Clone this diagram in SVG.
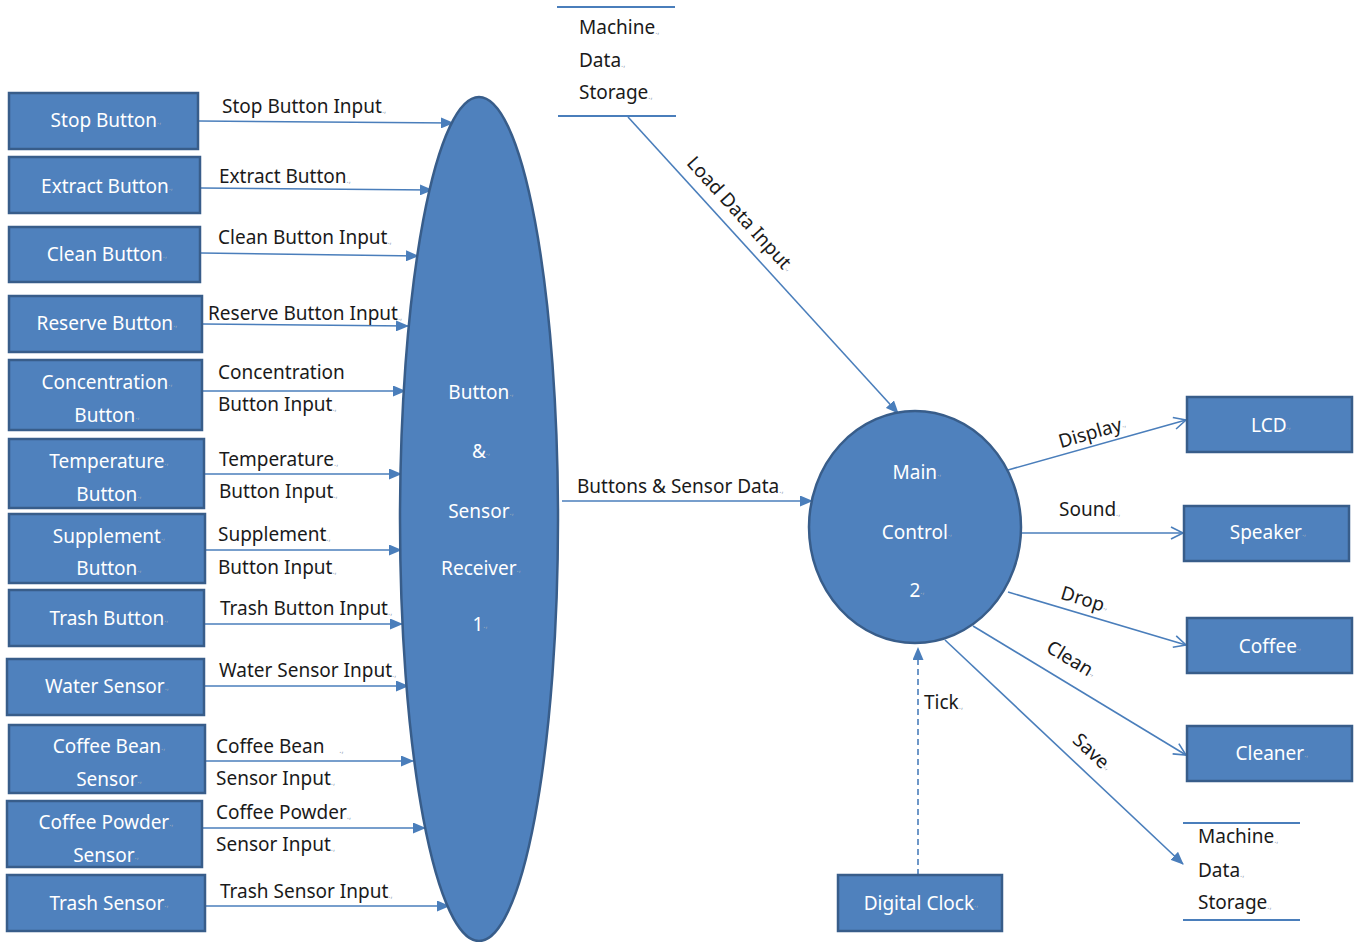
<svg xmlns="http://www.w3.org/2000/svg" width="1355" height="942" viewBox="0 0 1355 942">
<style>
.box{fill:#4F81BD;stroke:#385D8A;stroke-width:2.5}
.bt{font-family:"Noto Sans","Liberation Sans",sans-serif;font-size:19px;fill:#ffffff;text-anchor:middle;dominant-baseline:central}
.lb{font-family:"Noto Sans","Liberation Sans",sans-serif;font-size:19px;fill:#1a1a1a}
.lc{font-family:"Noto Sans","Liberation Sans",sans-serif;font-size:19px;fill:#1a1a1a;text-anchor:middle;dominant-baseline:central}
.pm{font-size:8px;fill:#9aa8bb}
.ln{stroke:#4A7EBB;stroke-width:1.6;fill:none}
.fa{marker-end:url(#fill)}
.oa{marker-end:url(#open)}
.st{stroke:#4A7EBB;stroke-width:1.8}
</style>
<defs>
<marker id="fill" markerUnits="userSpaceOnUse" markerWidth="13" markerHeight="11" refX="12" refY="5.5" orient="auto">
<path d="M0,0 L13,5.5 L0,11 z" fill="#4A7EBB"/>
</marker>
<marker id="open" markerUnits="userSpaceOnUse" markerWidth="15" markerHeight="14" refX="13" refY="7" orient="auto">
<path d="M1,1 L13,7 L1,13" fill="none" stroke="#4A7EBB" stroke-width="1.6"/>
</marker>
</defs>

<g id="connectors">
<line class="ln fa" x1="199" y1="121" x2="453" y2="123"/>
<line class="ln fa" x1="201" y1="188" x2="432" y2="190"/>
<line class="ln fa" x1="201" y1="253" x2="418" y2="256"/>
<line class="ln fa" x1="203" y1="324" x2="408" y2="326"/>
<line class="ln fa" x1="203" y1="391" x2="405" y2="391"/>
<line class="ln fa" x1="205" y1="474" x2="401" y2="474"/>
<line class="ln fa" x1="206" y1="550" x2="401" y2="550"/>
<line class="ln fa" x1="205" y1="624" x2="402" y2="624"/>
<line class="ln fa" x1="205" y1="686" x2="408" y2="686"/>
<line class="ln fa" x1="206" y1="761" x2="413" y2="761"/>
<line class="ln fa" x1="203" y1="828" x2="425" y2="828"/>
<line class="ln fa" x1="206" y1="906" x2="449" y2="906"/>
<line class="ln fa" x1="562" y1="501" x2="812" y2="501"/>
<line class="ln fa" x1="628" y1="117" x2="898" y2="413"/>
<line class="ln oa" x1="1008" y1="470" x2="1186" y2="420"/>
<line class="ln oa" x1="1021" y1="533" x2="1183" y2="533"/>
<line class="ln oa" x1="1008" y1="592" x2="1186" y2="645"/>
<line class="ln oa" x1="973" y1="626" x2="1186" y2="755"/>
<line class="ln fa" x1="945" y1="640" x2="1183" y2="864"/>
<line class="ln fa" x1="918" y1="875" x2="918" y2="648" stroke-dasharray="6,4"/>

<text class="lb" x="222" y="113">Stop Button Input<tspan class="pm">.,</tspan></text>
<text class="lb" x="219" y="183">Extract Button<tspan class="pm">.,</tspan></text>
<text class="lb" x="218" y="244">Clean Button Input<tspan class="pm">.,</tspan></text>
<text class="lb" x="208" y="320">Reserve Button Input<tspan class="pm">.,</tspan></text>
<text class="lb" x="218" y="379">Concentration</text>
<text class="lb" x="218" y="411">Button Input<tspan class="pm">.,</tspan></text>
<text class="lb" x="219" y="466">Temperature<tspan class="pm">.,</tspan></text>
<text class="lb" x="219" y="498">Button Input<tspan class="pm">.,</tspan></text>
<text class="lb" x="218" y="541">Supplement<tspan class="pm">.,</tspan></text>
<text class="lb" x="218" y="574">Button Input<tspan class="pm">.,</tspan></text>
<text class="lb" x="220" y="615">Trash Button Input<tspan class="pm">.,</tspan></text>
<text class="lb" x="219" y="677">Water Sensor Input<tspan class="pm">.,</tspan></text>
<text class="lb" x="216" y="753">Coffee Bean <tspan class="pm" dx="10">.,</tspan></text>
<text class="lb" x="216" y="785">Sensor Input<tspan class="pm">.,</tspan></text>
<text class="lb" x="216" y="819">Coffee Powder<tspan class="pm">.,</tspan></text>
<text class="lb" x="216" y="851">Sensor Input<tspan class="pm">.,</tspan></text>
<text class="lb" x="220" y="898">Trash Sensor Input<tspan class="pm">.,</tspan></text>
<text class="lb" x="577" y="493">Buttons &amp; Sensor Data<tspan class="pm">.,</tspan></text>
<text class="lc" transform="translate(741,214) rotate(47.7)">Load Data Input<tspan class="pm">.,</tspan></text>
<text class="lc" transform="translate(1092,432) rotate(-16)">Display<tspan class="pm">.,</tspan></text>
<text class="lb" x="1059" y="516">Sound<tspan class="pm">.,</tspan></text>
<text class="lc" transform="translate(1085,599) rotate(17)">Drop<tspan class="pm">.,</tspan></text>
<text class="lc" transform="translate(1072,659) rotate(31)">Clean<tspan class="pm">.,</tspan></text>
<text class="lc" transform="translate(1093,752) rotate(43)">Save<tspan class="pm">.,</tspan></text>
<text class="lb" x="924" y="709">Tick<tspan class="pm">.,</tspan></text>
</g>

<g id="stop-button"><rect class="box" x="9" y="93" width="189" height="56"/><text class="bt" x="106" y="120">Stop Button<tspan class="pm">.,</tspan></text></g>
<g id="extract-button"><rect class="box" x="9" y="157" width="191" height="56"/><text class="bt" x="107" y="186">Extract Button<tspan class="pm">.,</tspan></text></g>
<g id="clean-button"><rect class="box" x="9" y="227" width="191" height="55"/><text class="bt" x="107" y="254">Clean Button<tspan class="pm">.,</tspan></text></g>
<g id="reserve-button"><rect class="box" x="9" y="296" width="193" height="56"/><text class="bt" x="107" y="323">Reserve Button<tspan class="pm">.,</tspan></text></g>
<g id="concentration-button"><rect class="box" x="9" y="360" width="193" height="70"/><text class="bt" x="107" y="382">Concentration<tspan class="pm">.,</tspan></text><text class="bt" x="107" y="415">Button<tspan class="pm">.,</tspan></text></g>
<g id="temperature-button"><rect class="box" x="9" y="439" width="195" height="69"/><text class="bt" x="109" y="461">Temperature<tspan class="pm">.,</tspan></text><text class="bt" x="109" y="494">Button<tspan class="pm">.,</tspan></text></g>
<g id="supplement-button"><rect class="box" x="9" y="514" width="196" height="69"/><text class="bt" x="109" y="536">Supplement<tspan class="pm">.,</tspan></text><text class="bt" x="109" y="568">Button<tspan class="pm">.,</tspan></text></g>
<g id="trash-button"><rect class="box" x="9" y="590" width="195" height="56"/><text class="bt" x="109" y="618">Trash Button<tspan class="pm">.,</tspan></text></g>
<g id="water-sensor"><rect class="box" x="7" y="659" width="197" height="56"/><text class="bt" x="107" y="686">Water Sensor<tspan class="pm">.,</tspan></text></g>
<g id="coffee-bean-sensor"><rect class="box" x="9" y="725" width="196" height="68"/><text class="bt" x="109" y="746">Coffee Bean<tspan class="pm">.,</tspan></text><text class="bt" x="109" y="779">Sensor<tspan class="pm">.,</tspan></text></g>
<g id="coffee-powder-sensor"><rect class="box" x="7" y="801" width="195" height="66"/><text class="bt" x="106" y="822">Coffee Powder<tspan class="pm">.,</tspan></text><text class="bt" x="106" y="855">Sensor<tspan class="pm">.,</tspan></text></g>
<g id="trash-sensor"><rect class="box" x="7" y="875" width="198" height="56"/><text class="bt" x="109" y="903">Trash Sensor<tspan class="pm">.,</tspan></text></g>

<g id="receiver"><ellipse class="box" cx="479" cy="519" rx="79" ry="422"/>
<text class="bt" x="481" y="392">Button<tspan class="pm">.,</tspan></text>
<text class="bt" x="481" y="451">&amp;<tspan class="pm">.,</tspan></text>
<text class="bt" x="481" y="511">Sensor<tspan class="pm">.,</tspan></text>
<text class="bt" x="481" y="568">Receiver<tspan class="pm">.,</tspan></text>
<text class="bt" x="480" y="624">1<tspan class="pm">.,</tspan></text></g>

<g id="storage-top"><line class="st" x1="557" y1="7" x2="675" y2="7"/><line class="st" x1="558" y1="116" x2="676" y2="116"/>
<text class="lb" x="579" y="34">Machine<tspan class="pm">.,</tspan></text>
<text class="lb" x="579" y="67">Data<tspan class="pm">.,</tspan></text>
<text class="lb" x="579" y="99">Storage<tspan class="pm">.,</tspan></text></g>

<g id="main-control"><ellipse class="box" cx="915" cy="527" rx="106" ry="116"/>
<text class="bt" x="917" y="472">Main<tspan class="pm">.,</tspan></text>
<text class="bt" x="917" y="532">Control<tspan class="pm">.,</tspan></text>
<text class="bt" x="917" y="590">2<tspan class="pm">.,</tspan></text></g>

<g id="lcd"><rect class="box" x="1187" y="397" width="165" height="55"/><text class="bt" x="1271" y="425">LCD<tspan class="pm">.,</tspan></text></g>
<g id="speaker"><rect class="box" x="1184" y="506" width="165" height="55"/><text class="bt" x="1268" y="532">Speaker<tspan class="pm">.,</tspan></text></g>
<g id="coffee"><rect class="box" x="1187" y="618" width="165" height="55"/><text class="bt" x="1270" y="646">Coffee<tspan class="pm">.,</tspan></text></g>
<g id="cleaner"><rect class="box" x="1187" y="726" width="165" height="55"/><text class="bt" x="1272" y="753">Cleaner<tspan class="pm">.,</tspan></text></g>
<g id="digital-clock"><rect class="box" x="838" y="875" width="164" height="56"/><text class="bt" x="921" y="903">Digital Clock<tspan class="pm">.,</tspan></text></g>

<g id="storage-bottom"><line class="st" x1="1183" y1="823" x2="1300" y2="823"/><line class="st" x1="1183" y1="920" x2="1300" y2="920"/>
<text class="lb" x="1198" y="843">Machine<tspan class="pm">.,</tspan></text>
<text class="lb" x="1198" y="877">Data<tspan class="pm">.,</tspan></text>
<text class="lb" x="1198" y="909">Storage<tspan class="pm">.,</tspan></text></g>
</svg>
